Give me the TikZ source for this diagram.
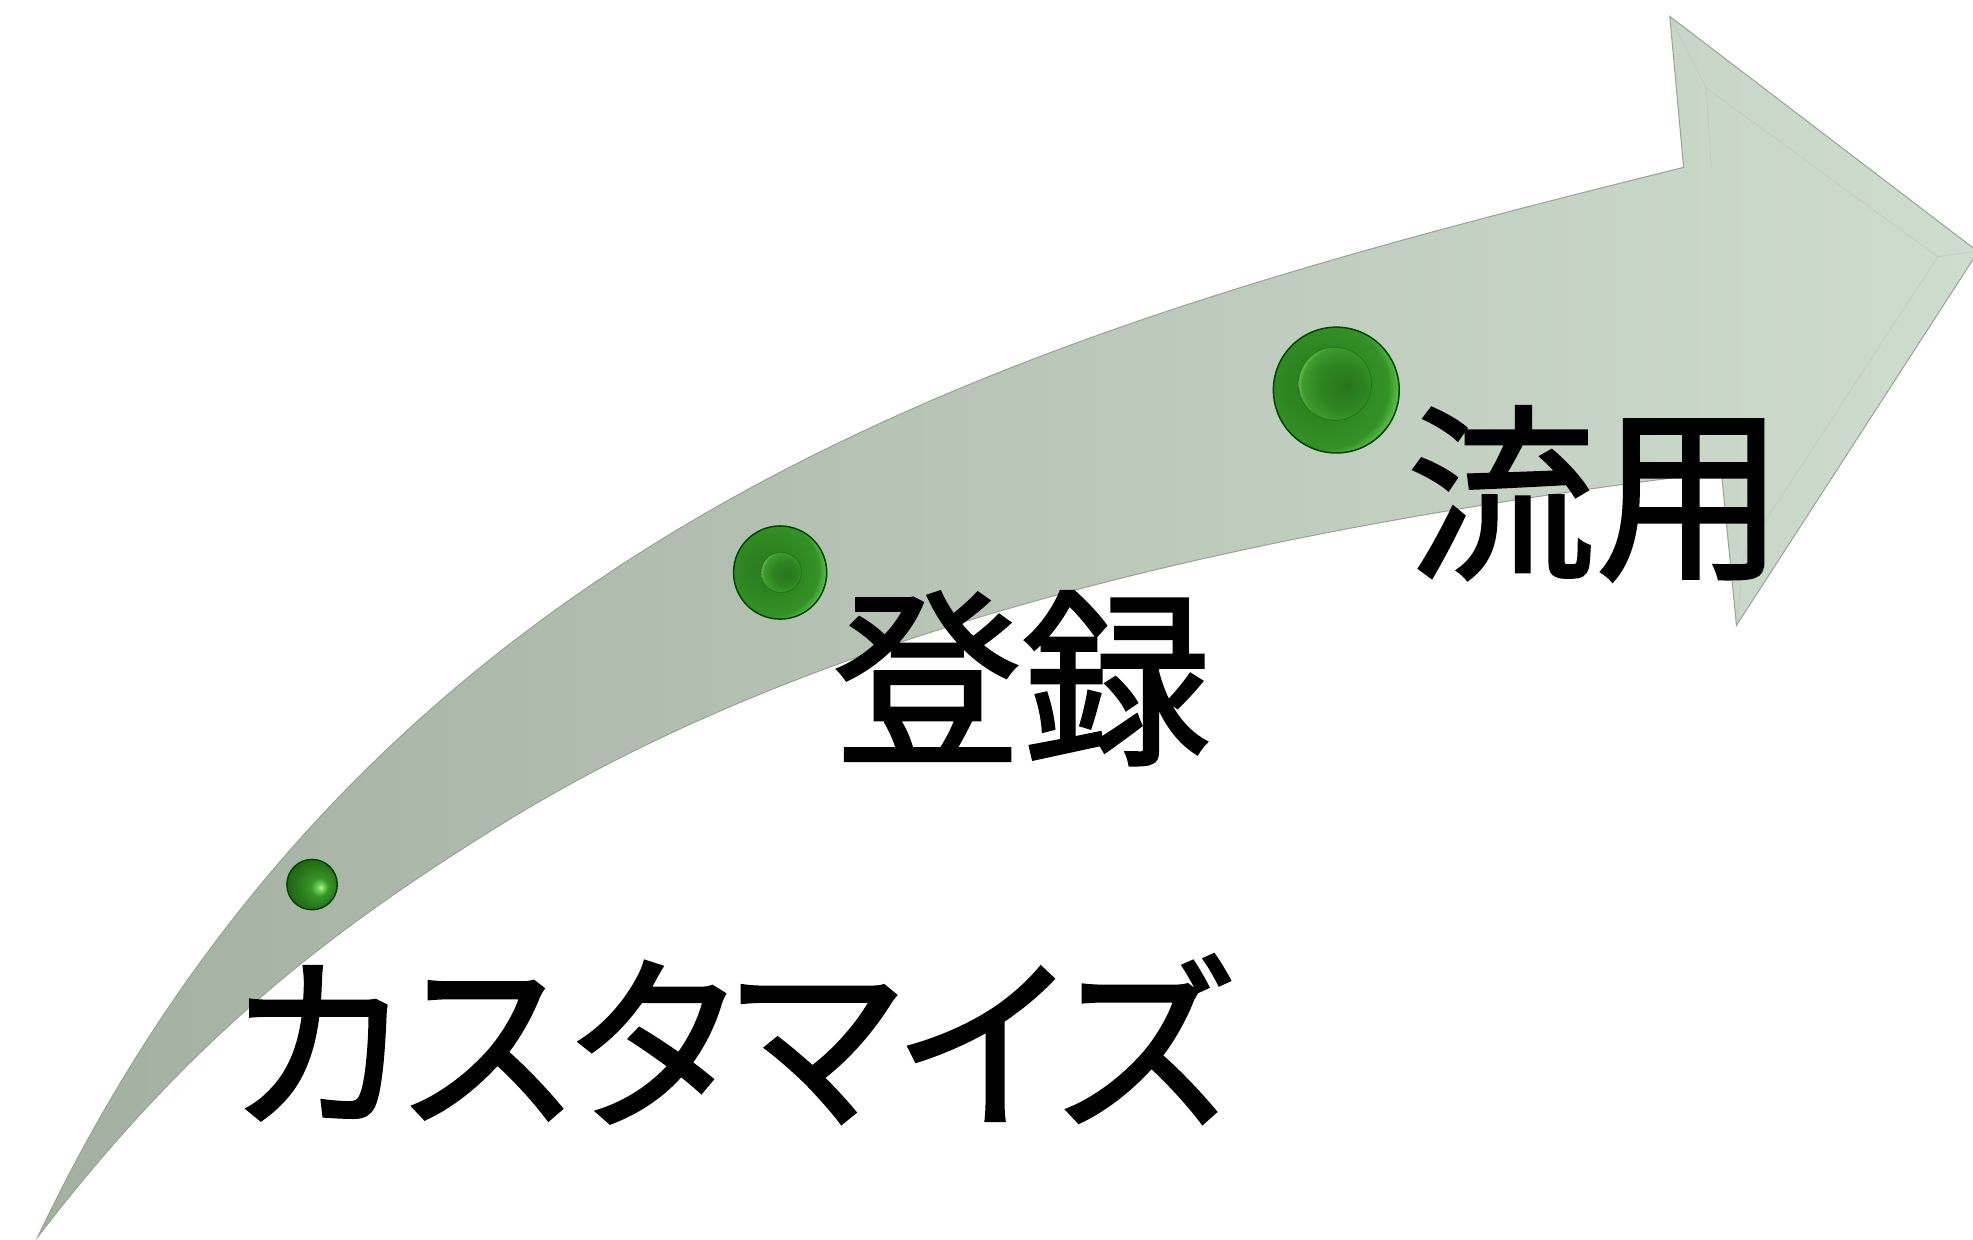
\documentclass[tikz,border=0pt]{standalone}
\usepackage{fontspec}
\newfontfamily\jpfont[FakeBold=1.6]{Noto Sans CJK JP}
\newfontfamily\jpkana[FakeBold=1.6, FakeStretch=0.985, RawFeature=+palt]{Noto Sans CJK JP}
\definecolor{bandL}{HTML}{A3AFA1}
\definecolor{bandM}{HTML}{C3D1C2}
\definecolor{bandR}{HTML}{CFDDCE}
\definecolor{bandEdge}{HTML}{97A496}
\pgfdeclareradialshading{gball}{\pgfpoint{9bp}{-3bp}}{rgb(0bp)=(0.70,0.97,0.62); rgb(3bp)=(0.45,0.84,0.36); rgb(9bp)=(0.22,0.58,0.15); rgb(22bp)=(0.15,0.45,0.10); rgb(34bp)=(0.11,0.36,0.07); rgb(50bp)=(0.11,0.36,0.07)}
\pgfdeclareradialshading{gbtnout}{\pgfpoint{-9bp}{3bp}}{rgb(0bp)=(0.17,0.48,0.12); rgb(14bp)=(0.18,0.52,0.13); rgb(25bp)=(0.20,0.57,0.15); rgb(29bp)=(0.38,0.76,0.30); rgb(33bp)=(0.66,0.96,0.58); rgb(50bp)=(0.66,0.96,0.58)}
\pgfdeclareradialshading{gbtnin}{\pgfpoint{8bp}{-2bp}}{rgb(0bp)=(0.15,0.46,0.10); rgb(16bp)=(0.18,0.52,0.13); rgb(26bp)=(0.24,0.60,0.18); rgb(30bp)=(0.45,0.80,0.38); rgb(34bp)=(0.58,0.89,0.50); rgb(50bp)=(0.58,0.89,0.50)}
\tikzset{
  lab/.style={inner sep=0pt, outer sep=0pt, text=black, font=\jpfont\fontsize{150}{150}\selectfont},
  rim/.style={draw=black!20!green!35!black, line width=1.2pt},
  innerrim/.style={draw=green!30!black, draw opacity=0.3, line width=0.8pt},
  bevel/.style={draw=black!30, draw opacity=0.22, line width=1pt},
}
\begin{document}
\begin{tikzpicture}[x=1pt, y=-1pt]
\useasboundingbox (0,0) rectangle (1568,985);
\clip (0,0) rectangle (1568,985);
% arrow body
\shade[left color=bandL, middle color=bandM, right color=bandR, draw=bandEdge, line width=0.8pt]
  (30,983) .. controls (308,399) and (836,258) .. (1338,133)
  -- (1327,13) -- (1572,200) -- (1380,497) -- (1368,375)
  .. controls (893,432) and (598.6,531) .. (397,656)
  .. controls (257,743) and (150,827) .. (30,983) -- cycle;
% head bevel
\draw[bevel] (1327,13) -- (1356,70) -- (1540,204) -- (1568,200);
\draw[bevel] (1540,204) -- (1386,440) -- (1380,497);
\draw[bevel] (1356,70) -- (1360,133);
% dots
\coordinate (c1) at (248,703);
\coordinate (c2) at (620,455);
\coordinate (c2i) at (621,455);
\coordinate (c3) at (1062,310);
\coordinate (c3i) at (1061,305);
\shade[shading=gball, rim] (c1) circle[radius=20];
\shade[shading=gbtnout, rim] (c2) circle[radius=37];
\shade[shading=gbtnin, innerrim] (c2i) circle[radius=16];
\shade[shading=gbtnout, rim] (c3) circle[radius=50];
\shade[shading=gbtnin, innerrim] (c3i) circle[radius=29];
% labels
\node[lab, anchor=base west] (t1) at (184,886) {\jpkana カスタマイズ};
\node[lab, anchor=base west] (t2) at (662,596) {登録};
\node[lab, anchor=base west] (t3) at (1118,449) {流用};
\end{tikzpicture}
\end{document}
